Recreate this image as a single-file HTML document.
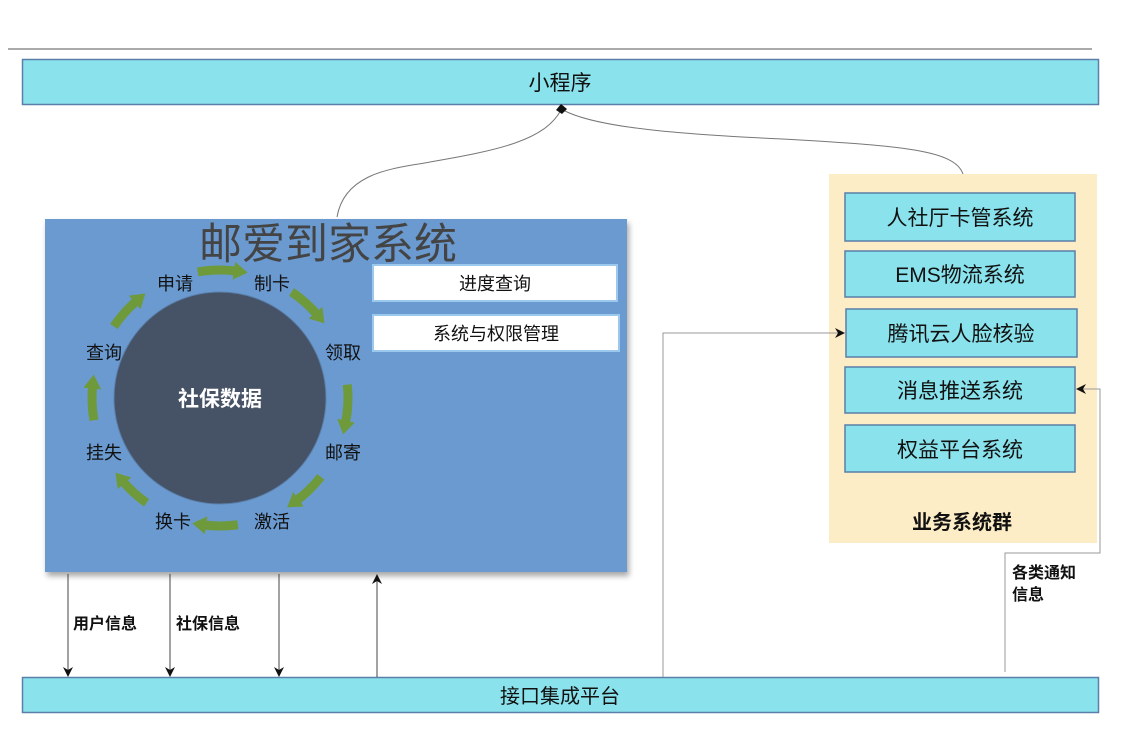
<!DOCTYPE html>
<html><head><meta charset="utf-8"><style>
html,body{margin:0;padding:0;background:#fff;width:1124px;height:752px;overflow:hidden}
text{font-family:"Liberation Sans","Noto Sans CJK SC",sans-serif}
</style></head><body>
<svg id="s" width="1124" height="752" xmlns="http://www.w3.org/2000/svg">
<defs>
<marker id="ah" markerWidth="10" markerHeight="10" refX="9" refY="5" orient="auto" markerUnits="userSpaceOnUse"><path d="M0,0 L10,5 L0,10 L3,5z" fill="#111"/></marker>
<marker id="gh" markerWidth="20" markerHeight="20" refX="4" refY="10" orient="auto" markerUnits="userSpaceOnUse"><path d="M0,1 L14,10 L0,19z" fill="#6e9a3c"/></marker>
<filter id="sh"><feDropShadow dx="2" dy="4" stdDeviation="3" flood-color="#000" flood-opacity="0.35"/></filter>
</defs>
<line x1="8" y1="49" x2="1092" y2="49" stroke="#555" stroke-width="1"/>
<rect x="22.5" y="59.5" width="1076" height="45" fill="#8ae2ec" stroke="#5a7fa8" stroke-width="1.5"/>
<text x="560" y="90" font-size="21" text-anchor="middle" fill="#111">小程序</text>
<path d="M337,217 C345,170 400,168 430,162 C500,150 545,140 561,110" fill="none" stroke="#777" stroke-width="1"/>
<path d="M963,174 C955,150 900,146 800,140 C700,135 600,130 563,110" fill="none" stroke="#777" stroke-width="1"/>
<path d="M556,110 L561,104 L567,109 L562,114z" fill="#111"/>
<rect x="45" y="219" width="582" height="353" fill="#6a9ad0" filter="url(#sh)"/>
<text x="328" y="259" font-size="43" text-anchor="middle" fill="#444">邮爱到家系统</text>
<circle cx="220" cy="398" r="106" fill="#465266" stroke="#5a7faa" stroke-width="1"/>
<text x="220" y="406" font-size="21" font-weight="bold" text-anchor="middle" fill="#fff">社保数据</text>
<g id="ga" fill="none" stroke="#6e9a3c" stroke-width="9"></g>
<g font-size="18" fill="#111" text-anchor="middle">
<text x="175" y="290">申请</text><text x="272" y="290">制卡</text>
<text x="343" y="359">领取</text><text x="343" y="459">邮寄</text>
<text x="272" y="528">激活</text><text x="173" y="528">换卡</text>
<text x="104" y="459">挂失</text><text x="104" y="359">查询</text>
</g>
<rect x="373" y="265" width="244" height="36" fill="#fff" stroke="#9cc8ee" stroke-width="2"/>
<text x="495" y="290" font-size="18" text-anchor="middle" fill="#111">进度查询</text>
<rect x="373" y="315" width="246" height="36" fill="#fff" stroke="#9cc8ee" stroke-width="2"/>
<text x="496" y="340" font-size="18" text-anchor="middle" fill="#111">系统与权限管理</text>
<rect x="829" y="174" width="268" height="369" fill="#fdedc6"/>
<g fill="#8ae2ec" stroke="#5a7fa8" stroke-width="1.5">
<rect x="845" y="193" width="230" height="48"/><rect x="845" y="251" width="230" height="46"/>
<rect x="846" y="309" width="231" height="48"/><rect x="845" y="367" width="230" height="46"/>
<rect x="845" y="425" width="230" height="47"/>
</g>
<g font-size="21" text-anchor="middle" fill="#111">
<text x="960" y="225">人社厅卡管系统</text><text x="960" y="282">EMS物流系统</text>
<text x="961" y="341">腾讯云人脸核验</text><text x="960" y="398">消息推送系统</text>
<text x="960" y="457">权益平台系统</text>
</g>
<text x="962" y="529" font-size="20" font-weight="bold" text-anchor="middle" fill="#111">业务系统群</text>
<rect x="22.5" y="677.5" width="1076" height="35" fill="#8ae2ec" stroke="#5a7fa8" stroke-width="1.5"/>
<text x="560" y="703" font-size="20" text-anchor="middle" fill="#111">接口集成平台</text>
<g stroke="#444" stroke-width="1" fill="none">
<line x1="68" y1="574" x2="68" y2="676" marker-end="url(#ah)"/>
<line x1="170" y1="574" x2="170" y2="676" marker-end="url(#ah)"/>
<line x1="279" y1="574" x2="279" y2="676" marker-end="url(#ah)"/>
<line x1="377" y1="677" x2="377" y2="575" marker-end="url(#ah)"/>
<polyline points="663,677 663,333 844,333" marker-end="url(#ah)" stroke="#999"/>
<polyline points="1005,672 1005,553 1100,553 1100,389 1077,389" marker-end="url(#ah)" stroke="#999"/>
</g>
<g font-size="16" font-weight="bold" fill="#111">
<text x="73" y="629">用户信息</text><text x="176" y="629">社保信息</text>
<text x="1012" y="578">各类通知</text><text x="1012" y="600">信息</text>
</g>
</svg>
<script>
var g=document.getElementById('ga'),cx=220,cy=398,r=128;
var segs=[[-100,-82],[-56,-40],[-6,12],[38,54],[82,98],[125,140],[170,186],[214,230]];
segs.forEach(function(s){var a1=s[0]*Math.PI/180,a2=s[1]*Math.PI/180;
var p=document.createElementNS('http://www.w3.org/2000/svg','path');
p.setAttribute('d','M'+(cx+r*Math.cos(a1))+','+(cy+r*Math.sin(a1))+' A'+r+' '+r+' 0 0 1 '+(cx+r*Math.cos(a2))+','+(cy+r*Math.sin(a2)));
p.setAttribute('marker-end','url(#gh)');g.appendChild(p);});
</script>
</body></html>
